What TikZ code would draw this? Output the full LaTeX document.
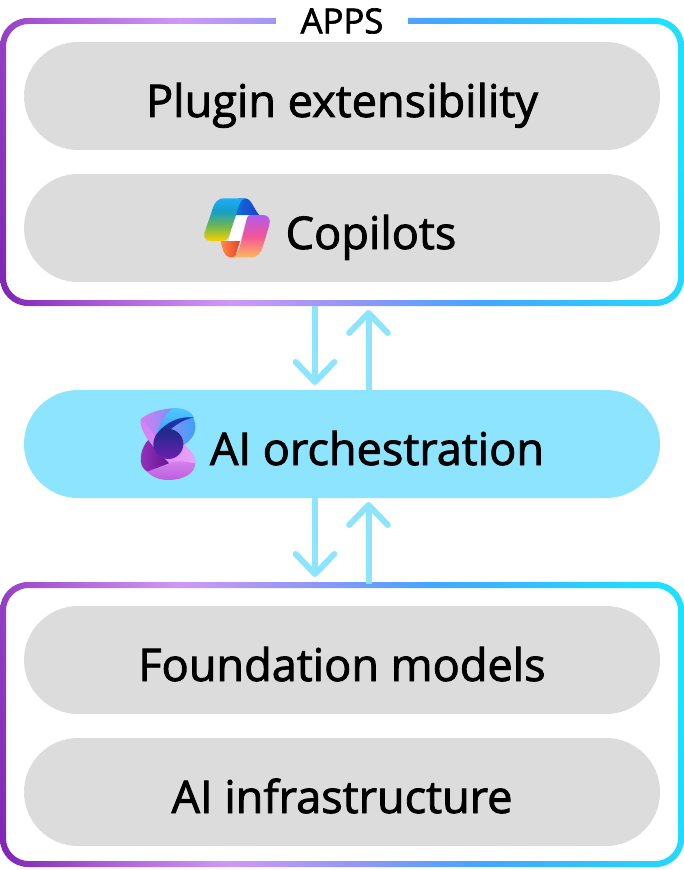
\documentclass[tikz,border=0pt]{standalone}
\usepackage{fontspec}
\setmainfont{Open Sans}[FakeBold=1.9]
\usetikzlibrary{arrows.meta}
\definecolor{pillgray}{HTML}{DCDCDC}
\definecolor{pillblue}{HTML}{8CE4FF}
\definecolor{leafpink}{HTML}{D47FF2}
\definecolor{leaflight}{HTML}{E9A4FA}
\definecolor{leafmid}{HTML}{BE5CE0}
\definecolor{leafdark}{HTML}{5E1890}
\definecolor{leafplum}{HTML}{9A30BE}
\definecolor{leafblue}{HTML}{3F9EF8}
\definecolor{leafsky}{HTML}{4CC8FF}
\definecolor{leafnavy}{HTML}{1C2A88}
\definecolor{leafviolet}{HTML}{6A1FB0}
\definecolor{ribbonblue}{HTML}{0F6EE0}
\definecolor{ribbonnavy}{HTML}{1B3EC8}
\definecolor{ribbonorange}{HTML}{FF8A45}
\definecolor{ribbonred}{HTML}{E8432A}
\pgfdeclarehorizontalshading{framegrad}{100bp}{
	rgb(0bp)=(0.478,0.133,0.690);
	rgb(21bp)=(0.494,0.145,0.706);
	rgb(29bp)=(0.670,0.361,0.847);
	rgb(39bp)=(0.812,0.596,0.961);
	rgb(50bp)=(0.545,0.592,0.973);
	rgb(59bp)=(0.271,0.647,1);
	rgb(70bp)=(0.173,0.792,1);
	rgb(77bp)=(0.118,0.878,1);
	rgb(100bp)=(0.118,0.878,1)}
\pgfdeclareverticalshading{copilotleft}{100bp}{
	rgb(0bp)=(0.98,0.82,0);
	rgb(25bp)=(0.98,0.82,0);
	rgb(42bp)=(0.45,0.72,0.30);
	rgb(60bp)=(0.08,0.62,0.78);
	rgb(75bp)=(0.10,0.68,0.98);
	rgb(100bp)=(0.10,0.68,0.98)}
\pgfdeclareverticalshading{copilotright}{100bp}{
	rgb(0bp)=(1,0.72,0.36);
	rgb(25bp)=(1,0.72,0.36);
	rgb(50bp)=(0.95,0.33,0.60);
	rgb(75bp)=(0.69,0.36,0.93);
	rgb(100bp)=(0.69,0.36,0.93)}
\tikzset{
	pill/.style={draw=none, fill=pillgray, rounded corners=40.5pt, minimum width=477pt,
		minimum height=81pt, inner sep=0pt, font=\fontsize{33.8}{36}\selectfont,
		text height=31.5pt, text depth=0pt},
	frame/.style={shading=framegrad, shading angle=10, even odd rule},
	flow/.style={draw=pillblue, line width=4.5pt,
		-{Straight Barb[length=15pt, width=29pt, round, line width=4.5pt]}},
}
\begin{document}
\begin{tikzpicture}[x=0.75pt, y=-0.75pt]
		\useasboundingbox (0, 0) rectangle (684, 870);
		%frames
		\shade[frame, rounded corners=21pt] (0, 18) rectangle (684, 306)
			[rounded corners=17pt] (6, 24) rectangle (678, 300);
		\shade[frame, rounded corners=21pt] (0, 582) rectangle (684, 867)
			[rounded corners=17pt] (6, 588) rectangle (678, 861);
		\node[fill=white, inner sep=0pt, minimum width=99pt, minimum height=19pt,
			font=\fontsize{26}{28}\selectfont] (apps) at (342, 21) {APPS};
		%pills
		\node[pill] (plugin) at (342, 96) {Plugin extensibility};
		\node[pill] (copilots) at (342, 228) {\hspace*{43.5pt}Copilots};
		\node[pill, fill=pillblue] (orchestration) at (342, 444) {\hspace*{52.5pt}AI orchestration};
		\node[pill] (foundation) at (342, 660) {Foundation models};
		\node[pill] (infrastructure) at (342, 792) {AI infrastructure};
		%arrows
		\coordinate (appsdown) at (315, 306);
		\coordinate (appsup) at (368.5, 390);
		\coordinate (lowerdown) at (315, 498);
		\coordinate (lowerup) at (368.5, 584);
		\draw[flow] (appsdown) -- (315, 385);
		\draw[flow] (appsup) -- (368.5, 310);
		\draw[flow] (lowerdown) -- (315, 577);
		\draw[flow] (lowerup) -- (368.5, 502);
		%copilot icon
		\begin{scope}[shift={(180, 180)}, x=0.25pt, y=-0.25pt]
			\fill[white] (165, 103) -- (205, 103) -- (180, 185) -- (145, 185) -- cycle;
			\shade[left color=ribbonblue, right color=ribbonnavy]
				(175, 55) -- (195, 55) .. controls (215, 55) and (222, 90) .. (238, 105)
				-- (165, 105) -- cycle;
			\shade[shading=copilotleft]
				(130, 55) -- (195, 55) .. controls (180, 58) and (174, 85) .. (168, 105)
				-- (147, 168) .. controls (144, 178) and (135, 183) .. (125, 183)
				-- (90, 183) .. controls (78, 183) and (70, 172) .. (73, 160)
				-- (100, 80) .. controls (105, 65) and (118, 55) .. (130, 55) -- cycle;
			\shade[left color=ribbonorange, right color=ribbonred]
				(122, 183) -- (180, 183) -- (165, 232) -- (148, 232)
				.. controls (132, 228) and (126, 205) .. (122, 183) -- cycle;
			\shade[shading=copilotright]
				(210, 105) -- (250, 105) .. controls (265, 105) and (273, 118) .. (268, 135)
				-- (250, 195) .. controls (243, 220) and (232, 232) .. (215, 232)
				-- (158, 232) .. controls (172, 228) and (178, 205) .. (183, 188)
				-- (198, 125) .. controls (201, 112) and (205, 105) .. (210, 105) -- cycle;
		\end{scope}
		%orchestration icon
		\begin{scope}[shift={(120, 395)}, x=0.25pt, y=-0.25pt]
			\shade[left color=leafplum, right color=leafdark]
				(85, 135) .. controls (65, 155) and (58, 190) .. (65, 210)
				.. controls (70, 222) and (78, 228) .. (85, 232)
				-- (148, 205) -- (115, 150) -- cycle;
			\shade[top color=leaflight, bottom color=leafmid]
				(82, 230) .. controls (100, 250) and (125, 255) .. (145, 255)
				.. controls (190, 255) and (225, 235) .. (226, 205)
				.. controls (226, 180) and (205, 160) .. (190, 145)
				-- (148, 205) -- cycle;
			\shade[left color=leafpink, right color=leaflight]
				(62, 72) .. controls (58, 100) and (85, 140) .. (110, 165)
				-- (148, 205) .. controls (170, 195) and (195, 200) .. (226, 205)
				.. controls (226, 180) and (205, 160) .. (190, 145)
				-- (105, 90) -- cycle;
			\shade[left color=leafpink, right color=leafblue]
				(62, 72) .. controls (90, 50) and (130, 40) .. (165, 40)
				.. controls (200, 40) and (225, 60) .. (226, 95)
				.. controls (226, 120) and (210, 140) .. (190, 150)
				-- (105, 125) .. controls (95, 105) and (75, 85) .. (62, 72) -- cycle;
			\shade[bottom color=leafblue, top color=leafsky]
				(110, 118) .. controls (125, 70) and (150, 40) .. (165, 40)
				.. controls (195, 40) and (215, 50) .. (222, 68)
				.. controls (175, 62) and (130, 90) .. (110, 118) -- cycle;
			\shade[left color=leafnavy, right color=ribbonnavy]
				(105, 125) .. controls (125, 90) and (175, 60) .. (222, 68)
				.. controls (190, 72) and (160, 95) .. (150, 105) -- cycle;
			\shade[top color=leafnavy, bottom color=leafviolet] (145, 147) circle (45);
		\end{scope}
		\end{tikzpicture}
\end{document}
